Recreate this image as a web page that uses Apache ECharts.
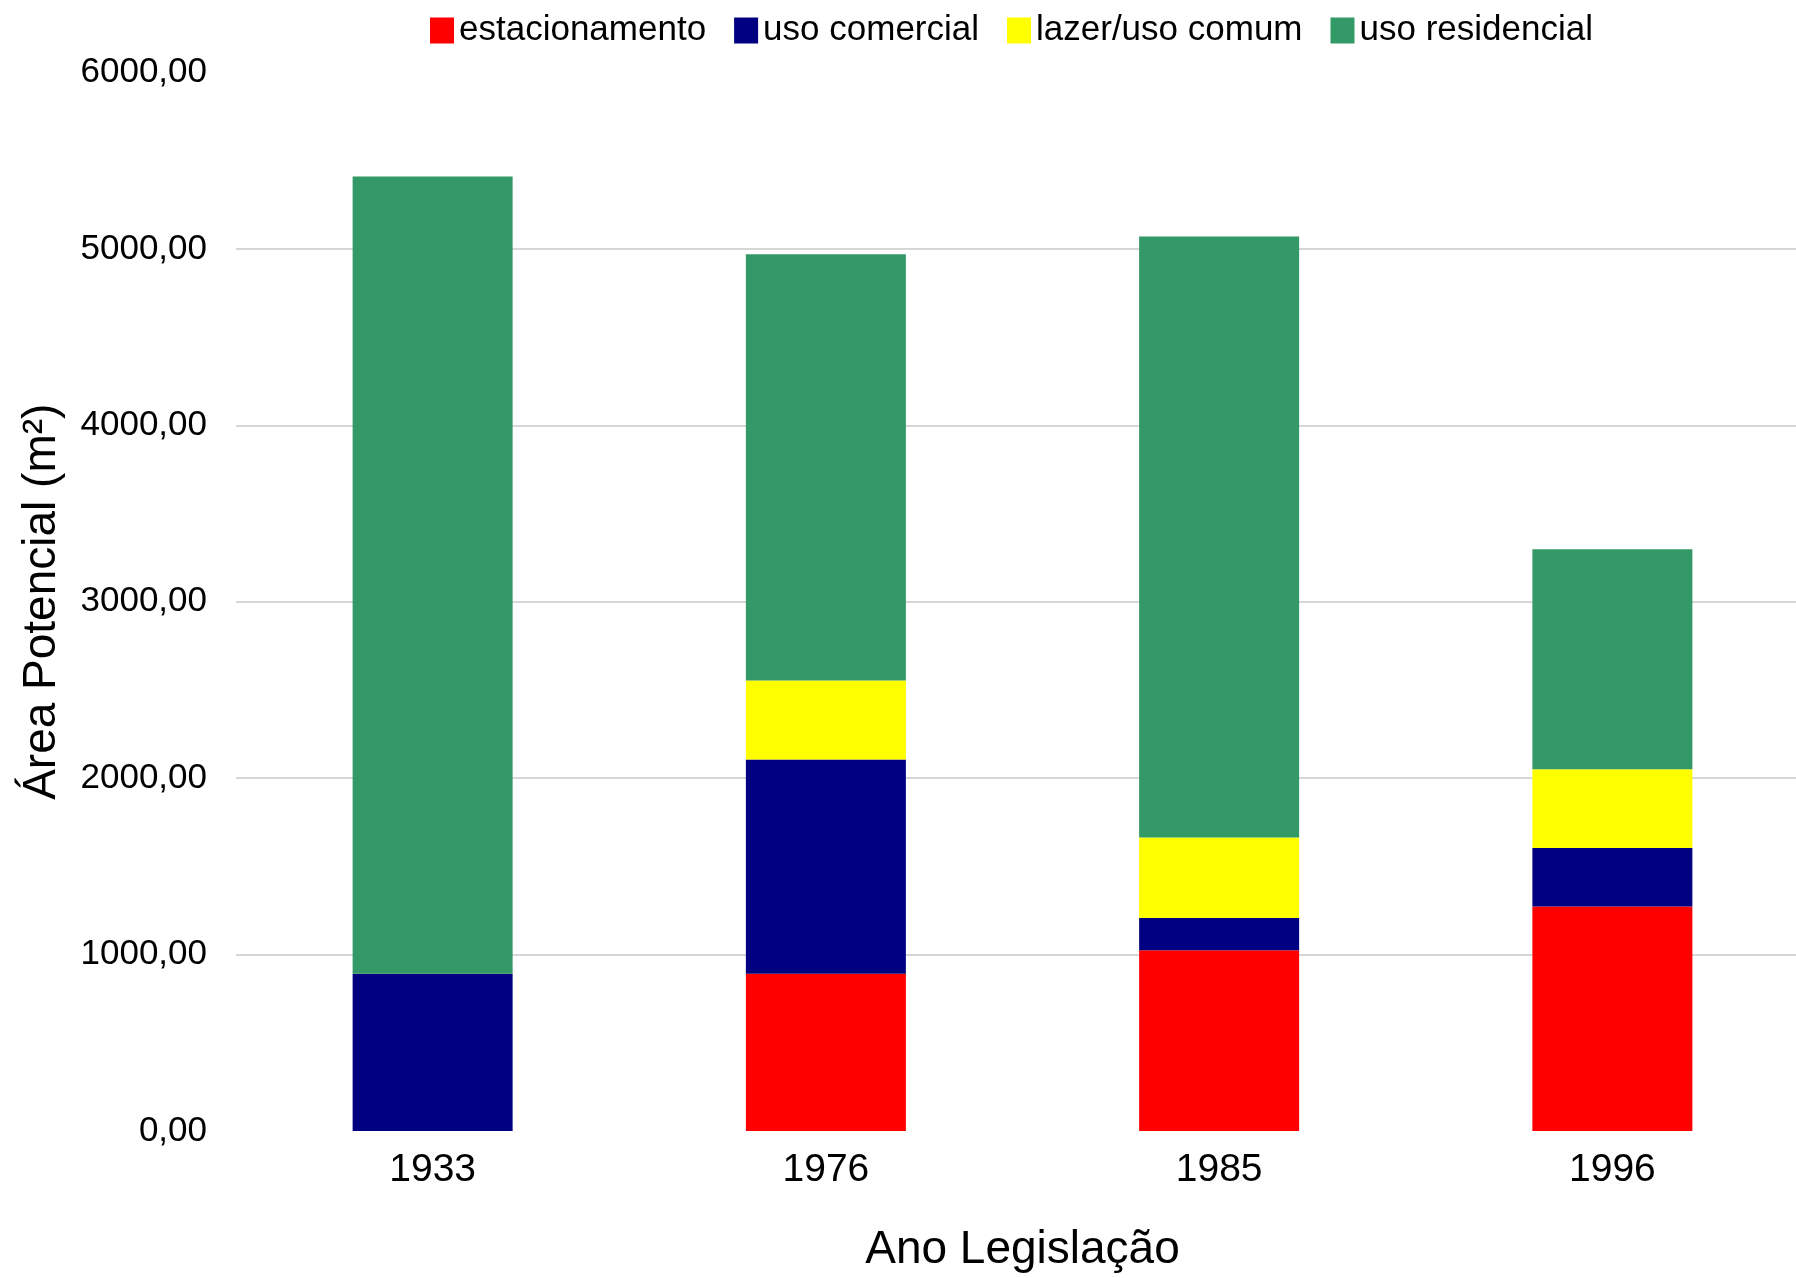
<!DOCTYPE html>
<html>
<head>
<meta charset="utf-8">
<title>Área Potencial por Ano de Legislação</title>
<script src="https://cdn.jsdelivr.net/npm/echarts@6/dist/echarts.min.js"></script>
<style>
  html, body { margin: 0; padding: 0; background: #ffffff; overflow: hidden; }
  /* plot area runs slightly past the right edge of the page */
  #chart { width: 1812px; height: 1278px; }
</style>
</head>
<body>
<div id="chart"></div>
<script>
// Years of each legislation
const anos = ['1933', '1976', '1985', '1996'];

// Potential area (m²) per use, stacked per year
const estacionamento = [0, 892, 1024, 1272];
const usoComercial   = [892, 1214, 184, 332];
const lazerUsoComum  = [0, 448, 456, 446];
const usoResidencial = [4518, 2416, 3407, 1248];

// Value axis ticks
const yTicks = [0, 1000, 2000, 3000, 4000, 5000, 6000];

const FONT = '"Liberation Sans", Arial, Helvetica, sans-serif';

const chart = echarts.init(document.getElementById('chart'), null, { renderer: 'canvas' });

function serie(name, data, color) {
  return {
    name: name,
    type: 'bar',
    stack: 'total',
    data: data,
    barWidth: 160,
    itemStyle: { color: color },
    emphasis: { disabled: true }
  };
}

// gridlines only between the first and last tick
const splitColors = yTicks.map((v, i) =>
  (i === 0 || i === yTicks.length - 1) ? 'rgba(0,0,0,0)' : '#d6d6d6');

chart.setOption({
  backgroundColor: '#ffffff',
  animation: false,
  textStyle: { fontFamily: FONT, color: '#000' },
  legend: {
    left: 425,
    top: 8,
    itemWidth: 24,
    itemHeight: 26,
    itemGap: 28,
    icon: 'rect',
    textStyle: { fontFamily: FONT, fontSize: 35, color: '#000' },
    data: ['estacionamento', 'uso comercial', 'lazer/uso comum', 'uso residencial']
  },
  grid: {
    left: 236,
    top: 72.5,
    width: 1573,
    height: 1063.5,
    containLabel: false
  },
  xAxis: {
    type: 'category',
    data: anos,
    name: 'Ano Legislação',
    nameLocation: 'middle',
    nameGap: 96,
    nameTextStyle: { fontFamily: FONT, fontSize: 46, color: '#000' },
    axisLine: { show: false },
    axisTick: { show: false },
    axisLabel: { fontFamily: FONT, fontSize: 39, color: '#000', margin: 20 }
  },
  yAxis: {
    type: 'value',
    min: yTicks[0],
    max: yTicks[yTicks.length - 1],
    interval: 1000,
    name: 'Área Potencial (m²)',
    nameLocation: 'middle',
    nameGap: 171,
    nameRotate: 90,
    nameTextStyle: { fontFamily: FONT, fontSize: 46, color: '#000' },
    axisLine: { show: false },
    axisTick: { show: false },
    axisLabel: {
      fontFamily: FONT,
      fontSize: 35,
      color: '#000',
      margin: 29,
      formatter: v => v.toFixed(2).replace('.', ',')
    },
    splitLine: { show: true, lineStyle: { color: splitColors, width: 2 } }
  },
  series: [
    serie('estacionamento', estacionamento, '#ff0000'),
    serie('uso comercial', usoComercial, '#000080'),
    serie('lazer/uso comum', lazerUsoComum, '#ffff00'),
    serie('uso residencial', usoResidencial, '#339966')
  ]
});
</script>
</body>
</html>
